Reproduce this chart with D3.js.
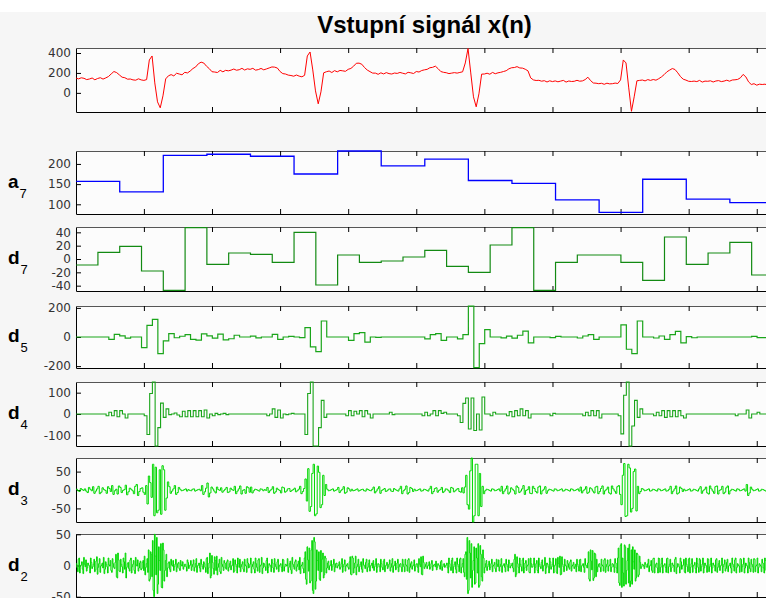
<!DOCTYPE html>
<html><head><meta charset="utf-8">
<script src="https://cdn.jsdelivr.net/npm/d3@7"></script>
<style>
html,body{margin:0;padding:0;background:#fff;}
svg{display:block;}
</style></head>
<body>
<svg id="chart" width="766" height="598"></svg>
<script>
// ---------- data ----------
const titleText = "Vstupní signál x(n)";
const xTicks = [200, 400, 600, 800, 1000, 1200, 1400, 1600, 1800, 2000];

// input signal x(n), one value per 8 samples
const xSignal = [
 148,140,151,146,133,139,149,131,144,152,138,150,164,190,214,203,
 180,157,152,137,139,130,127,141,130,125,133,330,370,100,-90,-150,
 -30,140,171,183,170,197,189,181,206,200,219,244,260,292,308,299,
 267,243,212,209,204,226,211,226,221,228,239,227,232,246,229,241,
 236,246,228,233,245,231,240,250,260,258,249,214,193,189,178,174,
 167,179,168,161,176,370,410,230,20,-110,10,201,212,219,204,223,
 211,225,221,216,236,245,268,297,298,287,254,229,213,198,198,186,
 201,190,203,193,189,199,195,205,197,190,206,201,194,214,209,224,
 231,236,252,256,268,243,214,206,202,193,198,203,198,205,211,300,
 445,200,-40,-140,-10,188,189,197,187,205,192,201,206,214,222,241,
 252,254,263,250,248,237,221,150,130,124,126,117,122,109,121,113,
 120,111,118,125,108,119,114,116,126,117,120,133,157,123,99,97,
 92,96,86,97,90,92,98,94,130,330,300,50,-185,-40,121,125,
 129,120,133,125,134,127,142,160,183,211,228,244,234,201,163,137,
 128,116,114,118,113,125,108,118,116,121,109,119,123,113,118,127,
 117,129,131,135,151,185,160,110,84,92,77,87,84,87,78,86
];

// approximation a7 (one value per 128 samples)
const a7 = [157,131,221,224,219,175,232,195,212,159,152,111,80,162,113,104];

// detail d7 (one value per 64 samples)
const d7 = [-9,10,19,-18,-47,47,-8,9,7,-5,40,-39,6,-5,-3,3,13,-11,-20,21,47,-47,-5,6,6,-5,-32,33,-8,9,25,-24];

// detail d5 (one value per 16 samples)
const d5 = [
 0,0,0,0,0,0,-16,18,8,-8,0,0,-73,80,121,-114,
 -27,23,-5,5,16,-16,-22,22,8,-8,20,-20,-12,12,0,0,
 6,-6,0,0,18,-16,0,4,0,-4,64,-68,-100,110,0,0,
 0,0,-23,23,30,-35,0,-3,0,0,0,0,0,0,0,0,
 -13,16,23,-23,0,0,-13,16,212,-210,-45,50,0,0,-6,6,
 -8,12,40,-40,0,0,0,-4,4,0,0,0,-7,7,16,-16,
 0,0,0,0,84,-84,-114,110,0,0,-7,7,-16,16,38,-40,
 3,-5,0,0,0,0,0,0,0,0,0,0,4,-4,-4,4
];

// detail d4 (one value per 8 samples)
const d4 = [
 0,0,0,0,0,0,0,0,0,0,0,-8,8,-8,16,-13,
 16,0,-19,0,0,0,0,0,0,-8,-96,96,150,-150,-64,51,
 -16,24,-3,0,5,-5,-13,13,-13,16,-13,16,-13,16,-13,19,
 -19,0,-8,3,-3,0,3,-3,0,0,0,0,0,0,0,0,
 0,0,0,0,0,0,-8,0,24,-16,19,-19,0,-3,0,3,
 0,0,0,0,-96,96,150,-150,-150,-64,64,-16,0,0,0,0,
 0,0,0,-8,16,-8,13,0,16,-13,16,0,-19,0,0,0,
 0,0,0,8,-3,0,0,0,0,0,0,0,0,0,0,-8,
 8,-8,0,16,-8,16,3,8,0,0,0,0,-8,-40,50,75,
 -70,75,-77,0,-75,80,0,0,-8,8,0,0,0,0,-8,11,
 -13,16,-8,24,-8,16,-19,0,0,0,0,0,0,0,-8,3,
 0,0,0,0,0,0,0,0,0,0,-8,8,-8,16,-8,16,
 -19,0,0,0,0,0,0,-8,-93,88,150,-150,-56,64,-16,24,
 0,0,0,0,-8,8,-8,16,-16,16,-13,16,-13,16,-8,-19,
 0,0,0,0,0,0,0,0,0,0,0,0,0,0,0,0,
 0,0,-8,0,0,0,19,-19,0,0,8,0,0,0,0,0
];

// Haar detail coefficients d3 (one per 8 samples: +c then -c over 4 samples each)
const d3Coef = [
 2,-4,1,3,-7,2,9,-3,10,-6,1,-9,4,12,-2,-11,
 7,-1,13,-5,2,-10,15,-4,6,-12,-38,20,70,62,-55,-66,
 55,-22,9,-3,12,-7,2,-1,3,1,-2,3,-1,2,12,-5,
 19,-8,3,-8,1,6,-2,7,-5,1,10,-3,11,-1,-9,6,
 8,-2,1,-3,2,1,7,-2,9,-5,1,-8,6,-3,4,-1,
 5,-2,10,-4,30,58,-45,70,-65,48,-40,-15,2,-1,3,-1,
 7,-2,9,-6,3,2,-1,3,-1,2,-3,1,-2,8,-3,9,
 -1,4,-2,3,-4,1,-3,10,-2,11,-7,4,2,-1,3,-2,
 1,-3,10,-4,6,-1,7,-3,2,-7,5,-2,4,-6,-8,40,
 -52,87,-70,70,45,10,-2,1,-3,2,-1,3,10,-3,11,-6,
 2,-11,7,-3,12,-1,9,-10,4,-8,11,-2,9,-2,1,-3,
 2,-1,3,-2,1,-3,2,-1,3,8,-2,9,-6,3,-8,10,
 -4,11,-2,8,-11,3,-9,12,-40,72,-70,60,-50,57,10,-4,
 2,-1,3,-2,1,-3,2,-1,3,-2,10,-3,11,-8,4,2,
 -1,3,-2,1,-3,9,-2,8,-11,3,-9,11,-1,10,-6,11,
 -2,1,-3,2,-1,3,15,-8,2,-1,3,-2,1,-3,2,-1
];

// Haar detail coefficients d2 (one per 4 samples: +c then -c over 2 samples each)
const d2Coef = [
 3,-10,12,-1,6,-13,2,9,-4,1,-12,5,-2,10,-7,14,
 -3,11,-1,4,13,-6,2,-12,1,8,-11,3,-5,18,-20,9,
 -10,2,-12,6,20,-3,5,-9,12,-2,8,-13,1,9,-4,7,
 -5,8,15,-3,11,25,-22,18,40,-50,15,45,-30,8,35,-36,
 25,-8,18,-4,6,-10,1,8,-2,10,-3,5,-8,1,6,-2,
 2,-9,5,-1,8,-2,9,-3,11,-1,4,-10,2,-6,3,-11,
 13,-4,20,-16,5,-14,8,15,-3,10,-13,2,-8,4,-6,9,
 -3,7,-1,11,-9,2,-12,3,10,-2,6,-10,1,-11,4,-2,
 12,-2,6,-12,3,-9,11,-1,13,-4,2,-8,12,-3,1,-10,
 4,-11,2,-6,10,-1,3,-10,9,-2,1,11,-3,7,-13,2,
 -6,9,-2,7,13,-1,5,-12,22,-30,9,28,-25,40,-45,38,
 -25,8,22,-24,-10,20,-15,12,-4,7,-1,8,-2,10,-3,4,
 -1,6,-3,11,-2,9,-1,3,-6,14,-15,12,-4,15,-2,10,
 -2,6,-11,1,-5,10,-3,9,-1,4,8,-2,11,-3,2,-10,
 3,-7,10,-1,5,-2,9,-3,11,-1,7,-4,10,-2,3,-10,
 2,-10,1,-9,11,-3,6,-1,9,-2,3,-11,2,14,-15,5,
 -2,5,-1,6,-3,8,-1,2,7,-3,1,-6,8,-2,3,-1,
 4,-12,3,-8,12,-2,6,-12,2,-10,12,-3,11,-18,22,45,
 -40,20,35,-8,30,-28,12,35,-32,18,-25,12,-3,8,-2,7,
 -3,10,-1,5,-10,2,9,-2,11,-1,3,-10,2,-9,4,-1,
 4,-10,18,-14,3,-12,2,-9,12,-4,8,-1,11,-12,3,-2,
 12,-3,8,-12,2,-5,9,-1,13,-4,2,-12,6,-2,12,-1,
 11,-13,3,15,-14,2,-10,1,-8,3,-6,9,-1,5,-2,-10,
 2,-9,10,-1,3,-11,1,-4,22,-25,7,24,-20,18,10,-2,
 3,-10,1,-9,11,-2,9,-1,10,-3,2,-11,4,-12,28,-32,
 35,12,-33,30,-8,28,34,-25,-30,6,25,-20,18,-15,5,-2,
 1,-5,2,-3,10,-1,8,-11,12,-2,4,-12,11,-3,12,-1,
 3,-11,12,-2,10,-4,1,-10,13,-3,2,-12,6,-1,10,-12,
 2,-10,12,-3,11,-1,5,-12,3,-11,9,-2,12,-4,1,-11,
 10,-2,12,-4,1,-9,11,-3,8,-1,12,-2,9,-5,10,-1,
 4,-12,2,-9,12,-3,1,-11,10,-2,12,-4,1,-12,5,-10,
 2,-11,10,-1,12,-3,1,-10,4,-12,8,-2,10,-3,7,-1
];

const yTicksX  = [0, 200, 400];
const yTicksA7 = [100, 150, 200];
const yTicksD7 = [-40, -20, 0, 20, 40];
const yTicksD5 = [-200, 0, 200];
const yTicksD4 = [-100, 0, 100];
const yTicksD3 = [-50, 0, 50];
const yTicksD2 = [-50, 0, 50];

// ---------- helpers ----------
const N = 2048;
function stepSeries(vals, len) {
  const pts = vals.map((v, k) => [k * len + 1, v]);
  pts.push([vals.length * len + 1, vals[vals.length - 1]]);
  return pts;
}
function haarHalves(coefs) { return coefs.flatMap(c => [c, -c]); }
const xSeries = xSignal.map((v, i) => [Math.max(1, i * 8), v]);
xSeries.push([N, xSignal[xSignal.length - 1]]);

// ---------- layout ----------
const W = 766, H = 598;
const svg = d3.select("#chart");
svg.append("rect").attr("width", W).attr("height", H).attr("fill", "#ffffff");
svg.append("rect").attr("x", 0).attr("y", 12).attr("width", W).attr("height", H - 12).attr("fill", "#f6f6f6");

const X0 = 76, X1 = 773;
const xScale = d3.scaleLinear().domain([1, N]).range([X0 + 0.14, X1 + 0.1]);

const panels = [
  {name: "",  sub: "",  top: 48,  h: 64, ylim: [-192, 450], ticks: yTicksX,  color: "#ff0000", width: 1,   data: xSeries, curve: d3.curveLinear},
  {name: "a", sub: "7", top: 151, h: 63, ylim: [76, 232],   ticks: yTicksA7, color: "#0000ff", width: 1.3, data: stepSeries(a7, 128), curve: d3.curveStepAfter},
  {name: "d", sub: "7", top: 227, h: 64, ylim: [-48, 48],   ticks: yTicksD7, color: "#138a13", width: 1.2, data: stepSeries(d7, 64), curve: d3.curveStepAfter},
  {name: "d", sub: "5", top: 306, h: 62, ylim: [-213, 213], ticks: yTicksD5, color: "#1aa51a", width: 1.2, data: stepSeries(d5, 16), curve: d3.curveStepAfter},
  {name: "d", sub: "4", top: 382, h: 64, ylim: [-150, 150], ticks: yTicksD4, color: "#1aa51a", width: 1.1, data: stepSeries(d4, 8), curve: d3.curveStepAfter},
  {name: "d", sub: "3", top: 458, h: 64, ylim: [-87, 87],   ticks: yTicksD3, color: "#00d800", width: 1,   data: stepSeries(haarHalves(d3Coef), 4), curve: d3.curveStepAfter},
  {name: "d", sub: "2", top: 534, h: 63, ylim: [-50.5, 50.5], ticks: yTicksD2, color: "#00d800", width: 1, data: stepSeries(haarHalves(d2Coef), 2), curve: d3.curveStepAfter}
];

const defs = svg.append("defs");
const FONT = "'DejaVu Sans', sans-serif";

panels.forEach((p, idx) => {
  const g = svg.append("g");
  const y = d3.scaleLinear().domain(p.ylim).range([p.top + p.h, p.top]);
  g.append("rect").attr("x", X0).attr("y", p.top).attr("width", X1 - X0).attr("height", p.h).attr("fill", "#fcfcfc");

  const cid = "clip" + idx;
  defs.append("clipPath").attr("id", cid).append("rect")
    .attr("x", X0).attr("y", p.top - 1.5).attr("width", X1 - X0).attr("height", p.h + 3);

  const bottom = g.append("g").attr("transform", `translate(0,${p.top + p.h})`)
    .call(d3.axisBottom(xScale).tickValues(xTicks).tickSizeInner(-5).tickSizeOuter(0).tickFormat(""));
  const topAx = g.append("g").attr("transform", `translate(0,${p.top})`)
    .call(d3.axisTop(xScale).tickValues(xTicks).tickSizeInner(-5).tickSizeOuter(0).tickFormat(""));
  const left = g.append("g").attr("transform", `translate(${X0},0)`)
    .call(d3.axisLeft(y).tickValues(p.ticks).tickSizeInner(-5).tickSizeOuter(0).tickPadding(5).tickFormat(d => String(d)));
  const right = g.append("g").attr("transform", `translate(${X1},0)`)
    .call(d3.axisRight(y).tickValues(p.ticks).tickSizeInner(-5).tickSizeOuter(0).tickFormat(""));

  [bottom, left, right].forEach(a => a.selectAll("path,line").attr("stroke", "#000"));
  topAx.selectAll("path").attr("stroke", "#555");
  topAx.selectAll("line").attr("stroke", "#000");
  left.selectAll("text").attr("font-family", FONT).attr("font-size", 12).attr("fill", "#333");
  [bottom, topAx, left, right].forEach(a => a.attr("font-family", null).attr("font-size", null));

  // data drawn above the box so lines lying on the border stay visible
  g.append("path").datum(p.data)
    .attr("d", d3.line().x(d => xScale(d[0])).y(d => y(d[1])).curve(p.curve))
    .attr("fill", "none").attr("stroke", p.color).attr("stroke-width", p.width)
    .attr("stroke-linejoin", "miter")
    .attr("clip-path", `url(#${cid})`);

  if (p.name) {
    const t = svg.append("text").attr("x", 8).attr("y", p.top + p.h / 2 + 5)
      .attr("font-family", "'Liberation Sans', Arial, sans-serif").attr("fill", "#000");
    t.append("tspan").attr("font-size", 19).attr("font-weight", "bold").text(p.name);
    t.append("tspan").attr("font-size", 13).attr("dy", 10).attr("dx", 1).text(p.sub);
  }
});

svg.append("text").attr("x", (X0 + X1) / 2).attr("y", 33)
  .attr("text-anchor", "middle")
  .attr("font-family", "'Liberation Sans', Arial, sans-serif")
  .attr("font-weight", "bold").attr("font-size", 24).attr("fill", "#000")
  .text(titleText);
</script>
</body></html>
